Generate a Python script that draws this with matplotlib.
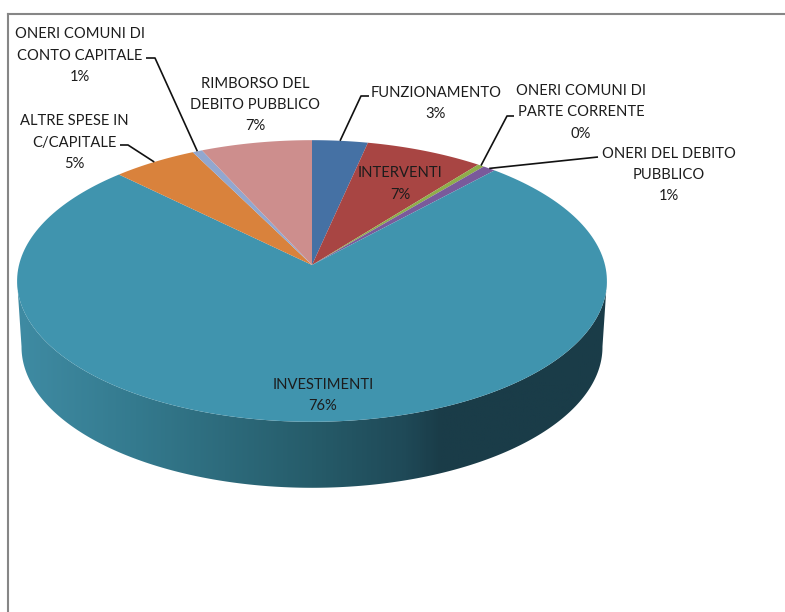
import numpy as np
import matplotlib
matplotlib.use("Agg")
import matplotlib.pyplot as plt
from matplotlib.colors import LinearSegmentedColormap
from matplotlib.patches import Polygon

plt.rcParams['font.family'] = ['Lato', 'DejaVu Sans']

# slices, clockwise from the top
labels = ["FUNZIONAMENTO", "INTERVENTI", "ONERI COMUNI DI\nPARTE CORRENTE", "ONERI DEL DEBITO\nPUBBLICO",
          "INVESTIMENTI", "ALTRE SPESE IN\nC/CAPITALE", "ONERI COMUNI DI\nCONTO CAPITALE", "RIMBORSO DEL\nDEBITO PUBBLICO"]
values = [3.4, 7.2, 0.4, 0.8, 75.6, 5.2, 0.6, 6.8]
colors = ["#4571a4", "#a84543", "#8fae4a", "#7a5a9b", "#4094ae", "#d9823c", "#92a7cf", "#cd8e8d"]

# where each label goes (centre x, centre y) and the elbow of its leader, pixels
label_pos = [(436, 103.5), (400, 184), (581, 112.5), (669, 175), (323, 395.5), (74, 142.5), (80, 55.5), (255, 105)]
elbows = [[(361, 96), (369, 96)], None, [(507, 116), (514, 116)], [(598, 157)], None,
          [(128, 145), (120, 145)], [(155, 58), (146, 58)], None]

cx, cy = 312, 265
a, b, k = 293, 139, 0.1135


def rim(t, sx=1.0, sy=1.0, dy=0):
    # t is clockwise from the top, far side is drawn smaller
    X, Y = np.sin(t), np.cos(t)
    w = 1 + k * Y
    return cx + sx * a * X / w, cy + dy - sy * b * Y / w


fig = plt.figure(figsize=(7.85, 6.12), dpi=100)
ax = fig.add_axes([0, 0, 1, 1])
ax.axis("off")

# side wall
t = np.linspace(np.pi / 2 - 0.2, 3 * np.pi / 2 + 0.2, 400)
xt, yt = rim(t)
i0, i1 = np.argmax(xt), np.argmin(xt)
xt, yt = xt[i0:i1 + 1], yt[i0:i1 + 1]
xb, yb = rim(t, 0.985, 1.0, 66)
i0, i1 = np.argmax(xb), np.argmin(xb)
xb, yb = xb[i0:i1 + 1], yb[i0:i1 + 1]
side = Polygon(np.r_[np.c_[xt, yt], np.c_[xb, yb][::-1]], closed=True, fc="none", ec="none")
ax.add_patch(side)
grad = LinearSegmentedColormap.from_list("side", [(0, "#3f8ba3"), (0.2, "#347a8e"), (0.5, "#265c6a"),
                                                  (0.66, "#1f4957"), (0.72, "#1a3c48"), (1, "#1a3c48")])
im = ax.imshow(np.linspace(0, 1, 300)[None, :], cmap=grad, extent=(xt.min(), xt.max(), yb.max() + 2, yt.min() - 2),
               aspect="auto", zorder=1)
im.set_clip_path(side)

# top face
ends = np.cumsum(values) / np.sum(values) * 2 * np.pi
starts = np.r_[0, ends[:-1]]
for s, e, c in zip(starts, ends, colors):
    tt = np.linspace(s, e, 200)
    x, y = rim(tt)
    ax.add_patch(Polygon(np.r_[[(cx, cy)], np.c_[x, y]], closed=True, fc=c, ec="none", zorder=2))

# labels and leaders
for i, lab in enumerate(labels):
    pct = "%d%%" % round(values[i])
    px, py = label_pos[i]
    ax.text(px, py, lab + "\n" + pct, ha="center", va="center", fontsize=10.6, color="#1c1c1c",
            linespacing=1.68, zorder=4)
    if elbows[i] is not None:
        mx, my = rim((starts[i] + ends[i]) / 2)
        pts = [(float(mx), float(my))] + elbows[i]
        ax.plot(*zip(*pts), color="#111111", lw=1.2, zorder=3, solid_capstyle="butt")

# chart frame, runs off the picture on the right and bottom
ax.plot([8, 8], [640, 14], color="#868686", lw=1.5, zorder=5)
ax.plot([8, 800], [14, 14], color="#868686", lw=1.5, zorder=5)

ax.set_xlim(0, 785)
ax.set_ylim(612, 0)
fig.savefig("out.png", dpi=100, facecolor="white")
